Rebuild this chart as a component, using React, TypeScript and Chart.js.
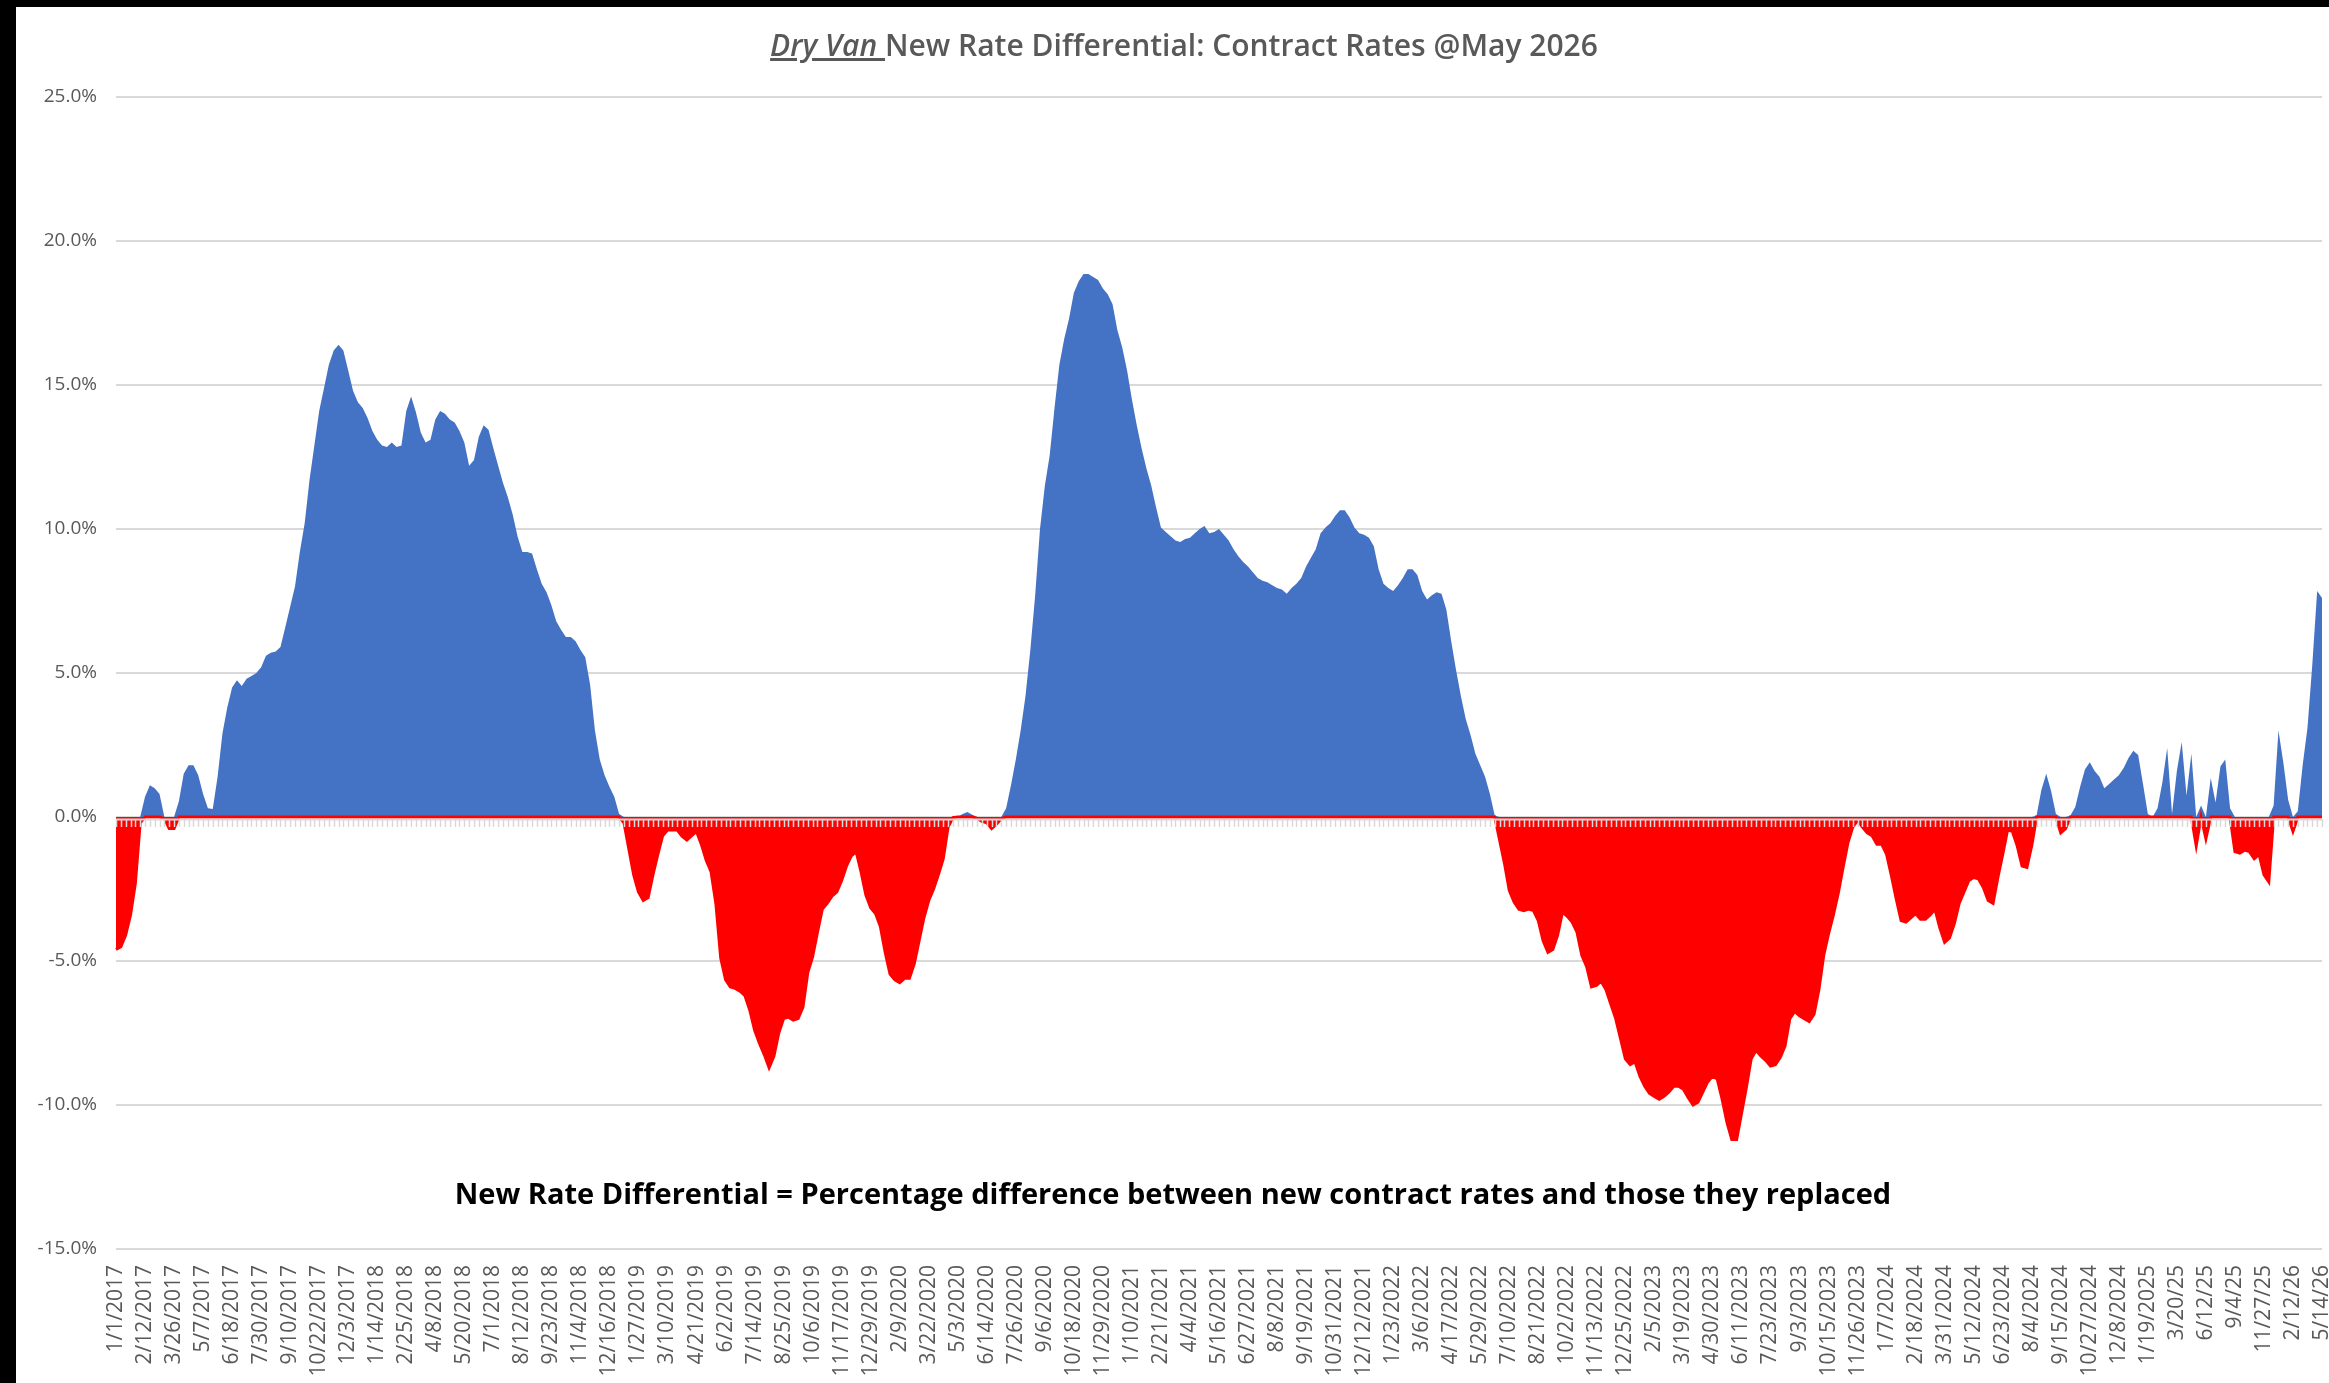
import React, { useEffect, useRef } from 'react';
import { Chart, registerables } from 'chart.js';

Chart.register(...registerables);

// Every 6th weekly category carries a visible date label
const tickLabels: string[] = [
  '1/1/2017', '2/12/2017', '3/26/2017', '5/7/2017', '6/18/2017', '7/30/2017', '9/10/2017', '10/22/2017', '12/3/2017',
  '1/14/2018', '2/25/2018', '4/8/2018', '5/20/2018', '7/1/2018', '8/12/2018', '9/23/2018', '11/4/2018', '12/16/2018',
  '1/27/2019', '3/10/2019', '4/21/2019', '6/2/2019', '7/14/2019', '8/25/2019', '10/6/2019', '11/17/2019', '12/29/2019',
  '2/9/2020', '3/22/2020', '5/3/2020', '6/14/2020', '7/26/2020', '9/6/2020', '10/18/2020', '11/29/2020',
  '1/10/2021', '2/21/2021', '4/4/2021', '5/16/2021', '6/27/2021', '8/8/2021', '9/19/2021', '10/31/2021', '12/12/2021',
  '1/23/2022', '3/6/2022', '4/17/2022', '5/29/2022', '7/10/2022', '8/21/2022', '10/2/2022', '11/13/2022', '12/25/2022',
  '2/5/2023', '3/19/2023', '4/30/2023', '6/11/2023', '7/23/2023', '9/3/2023', '10/15/2023', '11/26/2023',
  '1/7/2024', '2/18/2024', '3/31/2024', '5/12/2024', '6/23/2024', '8/4/2024', '9/15/2024', '10/27/2024', '12/8/2024',
  '1/19/2025', '3/20/25', '6/12/25', '9/4/25', '11/27/25', '2/12/26', '5/14/26',
];

const LABEL_EVERY = 6;

// New rate differential (%), one value per category
const values: number[] = [
  -4.6, -4.5, -4.1, -3.4, -2.3, -0.2, 0.7, 1.1, 1.0, 0.8,
  -0.05, -0.4, -0.4, 0.55, 1.5, 1.8, 1.8, 1.45, 0.8, 0.3,
  0.28, 1.4, 2.9, 3.8, 4.5, 4.75, 4.55, 4.8, 4.9, 5.0,
  5.2, 5.6, 5.7, 5.75, 5.9, 6.6, 7.3, 8.0, 9.2, 10.2,
  11.7, 12.9, 14.1, 14.9, 15.7, 16.2, 16.4, 16.2, 15.5, 14.8,
  14.4, 14.2, 13.85, 13.4, 13.1, 12.9, 12.85, 13.0, 12.85, 12.9,
  14.1, 14.6, 14.05, 13.35, 13.0, 13.1, 13.8, 14.1, 14.0, 13.8,
  13.7, 13.4, 13.0, 12.2, 12.4, 13.2, 13.6, 13.45, 12.8, 12.2,
  11.6, 11.1, 10.5, 9.75, 9.2, 9.2, 9.15, 8.6, 8.1, 7.8,
  7.35, 6.8, 6.5, 6.25, 6.25, 6.1, 5.8, 5.55, 4.6, 3.0,
  2.0, 1.45, 1.05, 0.7, 0.1, -0.2, -1.1, -2.0, -2.6, -2.9,
  -2.8, -2.0, -1.3, -0.65, -0.45, -0.45, -0.45, -0.67, -0.8, -0.65,
  -0.5, -0.95, -1.5, -1.9, -3.0, -4.9, -5.65, -5.9, -5.95, -6.05,
  -6.2, -6.7, -7.4, -7.85, -8.25, -8.7, -8.3, -7.5, -7.0, -6.95,
  -7.05, -7.0, -6.6, -5.4, -4.85, -4.0, -3.2, -3.0, -2.75, -2.6,
  -2.2, -1.7, -1.35, -1.2, -1.9, -2.7, -3.15, -3.35, -3.8, -4.7,
  -5.45, -5.65, -5.75, -5.6, -5.6, -5.1, -4.3, -3.5, -2.9, -2.5,
  -2.0, -1.45, -0.35, -0.02, 0.0, 0.1, 0.17, 0.08, -0.05, -0.15,
  -0.2, -0.4, -0.25, -0.05, 0.3, 1.1, 2.0, 3.0, 4.2, 5.8,
  7.7, 10.0, 11.5, 12.55, 14.2, 15.7, 16.6, 17.3, 18.2, 18.6,
  18.85, 18.85, 18.75, 18.65, 18.35, 18.15, 17.8, 16.9, 16.3, 15.5,
  14.5, 13.6, 12.8, 12.1, 11.5, 10.75, 10.05, 9.9, 9.75, 9.6,
  9.55, 9.65, 9.7, 9.85, 10.0, 10.1, 9.85, 9.9, 10.0, 9.8,
  9.6, 9.3, 9.05, 8.85, 8.7, 8.5, 8.3, 8.2, 8.15, 8.05,
  7.95, 7.9, 7.75, 7.95, 8.1, 8.3, 8.7, 9.0, 9.3, 9.85,
  10.05, 10.2, 10.45, 10.65, 10.65, 10.4, 10.05, 9.85, 9.8, 9.7,
  9.4, 8.6, 8.1, 7.95, 7.85, 8.05, 8.3, 8.6, 8.6, 8.4,
  7.85, 7.55, 7.7, 7.8, 7.75, 7.2, 6.1, 5.1, 4.2, 3.4,
  2.85, 2.2, 1.8, 1.4, 0.8, 0.05, -0.8, -1.6, -2.55, -2.95,
  -3.2, -3.25, -3.2, -3.25, -3.6, -4.3, -4.7, -4.6, -4.1, -3.3,
  -3.45, -3.65, -4.0, -4.8, -5.2, -5.9, -5.85, -5.7, -6.0, -6.5,
  -7.0, -7.7, -8.4, -8.6, -8.5, -9.0, -9.35, -9.6, -9.7, -9.8,
  -9.7, -9.55, -9.35, -9.35, -9.45, -9.75, -10.0, -9.9, -9.55, -9.2,
  -9.0, -9.1, -9.8, -10.6, -11.2, -11.2, -10.3, -9.4, -8.4, -8.1,
  -8.3, -8.45, -8.65, -8.6, -8.35, -7.95, -7.0, -6.75, -6.9, -7.0,
  -7.1, -6.85, -6.0, -4.8, -4.05, -3.4, -2.65, -1.75, -0.9, -0.35,
  -0.12, -0.35, -0.55, -0.65, -0.95, -0.95, -1.3, -2.05, -2.85, -3.6,
  -3.65, -3.5, -3.35, -3.55, -3.55, -3.4, -3.2, -3.85, -4.35, -4.2,
  -3.7, -3.0, -2.6, -2.2, -2.1, -2.15, -2.45, -2.9, -3.0, -2.1,
  -1.3, -0.45, -0.5, -1.0, -1.7, -1.75, -1.0, 0.05, 0.95, 1.5,
  0.9, 0.1, -0.55, -0.4, 0.05, 0.35, 1.05, 1.65, 1.9, 1.6,
  1.4, 1.0, 1.15, 1.3, 1.45, 1.7, 2.05, 2.3, 2.15, 1.15,
  0.1, 0.0, 0.3, 1.2, 2.4, 0.1, 1.6, 2.6, 0.75, 2.2,
  -1.0, 0.4, -0.75, 1.35, 0.5, 1.75, 2.0, 0.3, -1.2, -1.25,
  -1.15, -1.2, -1.45, -1.3, -2.0, -2.25, 0.4, 3.0, 1.9, 0.6,
  -0.5, 0.2, 1.8, 3.1, 5.3, 7.85, 7.6,
];

const titleItalic = 'Dry Van ';
const titleRest = 'New Rate Differential: Contract Rates @May 2026';
const noteText = 'New Rate Differential = Percentage difference between new contract rates and those they replaced';

const yMin = -15;
const yMax = 25;
const yStep = 5;

const categories = values.map((_, i) => (i % LABEL_EVERY === 0 ? tickLabels[i / LABEL_EVERY] ?? '' : ''));
const positiveSeries = values.map((v) => Math.max(v, 0));
const negativeSeries = values.map((v) => Math.min(v, 0));

const BLUE = '#4472C4';
const RED = '#FF0000';
const GRID = '#d9d9d9';
const TEXT = '#595959';
const FONT = "'Open Sans', 'Liberation Sans', sans-serif";

const W = 2313;
const H = 1376;

const zeroAxisPlugin = {
  id: 'zeroAxis',
  afterDatasetsDraw(chart: any) {
    const { ctx, chartArea, scales } = chart;
    const xs = scales.x;
    const ys = scales.y;
    const y0 = ys.getPixelForValue(0);
    ctx.save();
    ctx.strokeStyle = GRID;
    ctx.lineWidth = 2;
    ctx.beginPath();
    ctx.moveTo(chartArea.left, y0 + 2.5);
    ctx.lineTo(chartArea.right, y0 + 2.5);
    ctx.stroke();
    ctx.lineWidth = 1.5;
    ctx.beginPath();
    for (let i = 0; i < categories.length; i++) {
      const px = Math.round(xs.getPixelForValue(i)) + 0.5;
      ctx.moveTo(px, y0 + 2);
      ctx.lineTo(px, y0 + 10);
    }
    ctx.stroke();
    ctx.restore();
  },
};

export default function App() {
  const canvasRef = useRef<HTMLCanvasElement | null>(null);

  useEffect(() => {
    if (!canvasRef.current) return;
    const chart = new Chart(canvasRef.current, {
      type: 'line',
      data: {
        labels: categories,
        datasets: [
          {
            label: 'Negative',
            data: negativeSeries,
            borderColor: RED,
            borderWidth: 3,
            backgroundColor: RED,
            fill: 'origin',
            pointRadius: 0,
            tension: 0,
          },
          {
            label: 'Positive',
            data: positiveSeries,
            borderColor: 'rgba(68,114,196,0)',
            borderWidth: 1,
            backgroundColor: BLUE,
            fill: 'origin',
            pointRadius: 0,
            tension: 0,
          },
        ],
      },
      options: {
        responsive: false,
        animation: false,
        devicePixelRatio: 1,
        layout: { padding: { top: 90, right: 7, left: 0, bottom: 0 } },
        plugins: {
          legend: { display: false },
          tooltip: { enabled: false },
          title: { display: false },
        },
        scales: {
          x: {
            type: 'category',
            offset: false,
            grid: { display: false, drawTicks: false },
            border: { display: false },
            ticks: {
              autoSkip: false,
              minRotation: 90,
              maxRotation: 90,
              padding: 16,
              color: TEXT,
              font: { family: FONT, size: 21 },
            },
            afterFit: (s: any) => {
              s.height = 134;
              s.paddingLeft = 0;
              s.paddingRight = 0;
            },
          },
          y: {
            min: yMin,
            max: yMax,
            ticks: {
              stepSize: yStep,
              padding: 19,
              color: TEXT,
              font: { family: FONT, size: 19 },
              callback: (v: any) => Number(v).toFixed(1) + '%',
            },
            grid: { color: GRID, lineWidth: 2, drawTicks: false },
            border: { display: false },
            afterFit: (s: any) => {
              s.width = 100;
            },
          },
        },
      },
      plugins: [zeroAxisPlugin],
    });
    return () => chart.destroy();
  }, []);

  return (
    <div
      style={{
        position: 'fixed',
        left: 0,
        top: 0,
        width: 2329,
        height: 1383,
        background: '#000',
        overflow: 'hidden',
      }}
    >
      <div
        style={{
          position: 'absolute',
          left: 16,
          top: 7,
          width: W,
          height: H,
          background: '#fff',
          overflow: 'hidden',
        }}
      >
        <canvas
          ref={canvasRef}
          width={W}
          height={H}
          style={{ position: 'absolute', left: 0, top: 0, width: W, height: H }}
        />
        <div
          style={{
            position: 'absolute',
            left: 1168,
            top: 38,
            transform: 'translate(-50%, -50%)',
            whiteSpace: 'nowrap',
            fontFamily: FONT,
            fontSize: 30,
            fontWeight: 600,
            color: TEXT,
            lineHeight: '40px',
          }}
        >
          <span style={{ fontStyle: 'italic', textDecoration: 'underline' }}>{titleItalic}</span>
          {titleRest}
        </div>
        <div
          style={{
            position: 'absolute',
            left: 1157,
            top: 1186,
            transform: 'translate(-50%, -50%)',
            whiteSpace: 'nowrap',
            fontFamily: FONT,
            fontSize: 29,
            fontWeight: 700,
            color: '#000',
            lineHeight: '36px',
          }}
        >
          {noteText}
        </div>
      </div>
    </div>
  );
}
